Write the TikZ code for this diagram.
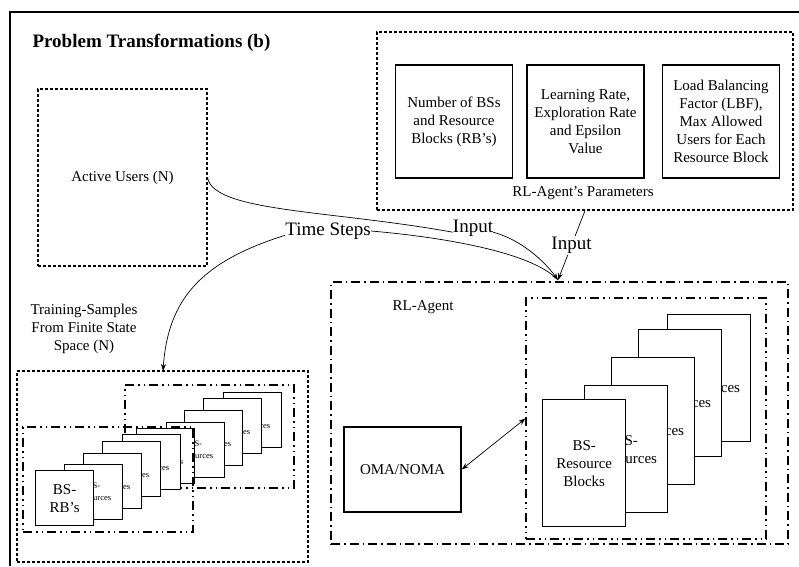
\documentclass[tikz,border=0pt]{standalone}
\usepackage{fontspec}
\setmainfont{Liberation Serif}
\usetikzlibrary{arrows.meta}

\begin{document}
\begin{tikzpicture}[x=1pt,y=-1pt,>={Stealth[length=7pt,width=5pt]},
    txt/.style={font=\fontsize{15}{18}\selectfont,align=center},
    lbl/.style={font=\fontsize{19}{22}\selectfont,inner sep=0pt},
    dotbox/.style={draw,line width=1.2pt,dash pattern=on 3pt off 2pt},
    dashdot/.style={draw,line width=1.3pt,dash pattern=on 9pt off 4pt on 1.5pt off 4pt},
    dashdots/.style={draw,line width=1.3pt,dash pattern=on 9pt off 4pt on 1.5pt off 4pt on 1.5pt off 4pt},
    parbox/.style={draw,line width=1.4pt,txt,minimum width=117,minimum height=113},
    bigcard/.style={draw,fill=white,line width=1.4pt,txt,minimum width=83,minimum height=127,anchor=north west},
    smallcard/.style={draw,fill=white,line width=1.3pt,align=center,font=\fontsize{8.5}{12}\selectfont,minimum width=58,minimum height=55,anchor=north west},
    conn/.style={line width=0.7pt}]
    \useasboundingbox (0,0) rectangle (799,566);

    % frame and title
    \draw[line width=1.5pt] (10,566) -- (10,12) -- (799,12);
    \node[font=\fontsize{19}{23}\selectfont\bfseries,anchor=west] (title) at (29,43) {Problem Transformations (b)};

    \node[dotbox,txt,minimum width=169,minimum height=177] (users) at (122.5,177.5) {Active Users (N)};

    % agent parameters
    \node[dotbox,minimum width=416,minimum height=178] (params) at (585,121) {};
    \node[parbox] (nbs) at (454,121.5) {Number of BSs\\and Resource\\Blocks (RB's)};
    \node[parbox] (lrate) at (585.5,121.5) {Learning Rate,\\Exploration Rate\\and Epsilon\\Value};
    \node[parbox] (lbf) at (721,121.5) {Load Balancing\\Factor (LBF),\\Max Allowed\\Users for Each\\Resource Block};
    \node[txt] (partxt) at (583,193) {RL-Agent's Parameters};

    % training samples
    \node[txt] (trainlbl) at (84,329) {Training-Samples\\From Finite State\\Space (N)};
    \node[dotbox,minimum width=291,minimum height=191] (train) at (162.5,466.5) {};
    \node[dashdots,minimum width=169,minimum height=103] (grpA) at (209.5,436.5) {};
    \foreach \x/\y/\n in {223/392/4,203/398/3,184/410/2,166/422/1}
        \node[smallcard] (sa\n) at (\x,\y) {BS-\\Resources};
    \foreach \x/\y/\n in {136/428/6,122/434/5,102/441/4,83/453/3,64/464/2}
        \node[smallcard] (sb\n) at (\x,\y) {BS-\\Resources};
    \node[smallcard,txt,inner sep=0pt] (sb1) at (35,470) {BS-\\RB's};
    \node[dashdots,minimum width=170,minimum height=105] (grpB) at (108,479.5) {};

    % RL agent
    \node[dashdot,minimum width=457,minimum height=262] (agent) at (559.5,413) {};
    \node[txt] (agentlbl) at (423,307) {RL-Agent};
    \node[dashdots,minimum width=240,minimum height=241] (rbbox) at (646,418.5) {};
    \node[draw,line width=1.4pt,txt,minimum width=117,minimum height=85] (oma) at (402.5,469.5) {OMA/NOMA};
    \foreach \x/\y/\n in {667/314/5,638/329/4,611/357/3,584/385/2}
        \node[bigcard] (rb\n) at (\x,\y) {BS-\\Resources};
    \node[bigcard] (rb1) at (542,399) {BS-\\Resource\\Blocks};

    % connectors
    \coordinate (tip) at (558,280);
    \coordinate (trainin) at (163,371);
    \node[lbl] (inA) at (473,228) {Input};
    \node[lbl] (ts) at (328,231) {Time Steps};

    \draw[conn] (users.east) .. controls (213,212) and (330,210) .. (inA.base west);
    \draw[conn,->] (inA.base east) .. controls (522,240) and (545,262) .. (tip);
    \draw[conn] (tip) .. controls (530,250) and (430,236) .. (ts.east);
    \draw[conn,->] (ts.base west) .. controls (200,262) and (168,300) .. (trainin);
    \draw[conn,->] (params.south) -- (tip) node[lbl,pos=.5,fill=white,inner sep=1pt] (inB) {Input};
    \draw[conn,<->] (oma.east) -- (rbbox.west);
\end{tikzpicture}
\end{document}
